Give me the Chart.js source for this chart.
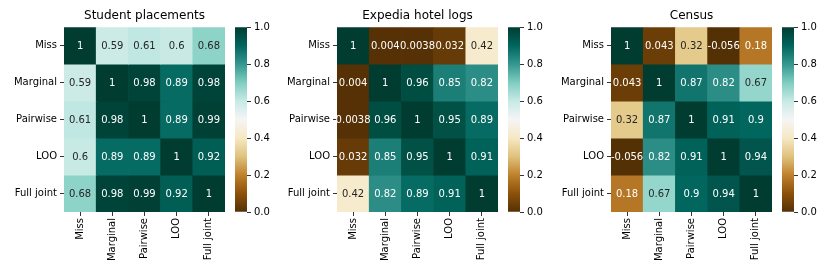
<!DOCTYPE html>
<html>
<head>
<meta charset="utf-8">
<script src="https://cdn.jsdelivr.net/npm/chart.js@4/dist/chart.umd.min.js"></script>
<style>
  html, body { margin: 0; padding: 0; background: #fff; }
  #wrap { position: relative; width: 830px; height: 277px; overflow: hidden; }
  #wrap canvas { position: absolute; top: 0; }
</style>
</head>
<body>
<div id="wrap"></div>
<script>
'use strict';

/* ── Data ─────────────────────────────────────────────────── */

const METHODS = ['Miss', 'Marginal', 'Pairwise', 'LOO', 'Full joint'];

const TITLES = ['Student placements', 'Expedia hotel logs', 'Census'];

const studentCorr = [
  [1, 0.59, 0.61, 0.6, 0.68],
  [0.59, 1, 0.98, 0.89, 0.98],
  [0.61, 0.98, 1, 0.89, 0.99],
  [0.6, 0.89, 0.89, 1, 0.92],
  [0.68, 0.98, 0.99, 0.92, 1],
];

const expediaCorr = [
  [1, 0.004, 0.0038, 0.032, 0.42],
  [0.004, 1, 0.96, 0.85, 0.82],
  [0.0038, 0.96, 1, 0.95, 0.89],
  [0.032, 0.85, 0.95, 1, 0.91],
  [0.42, 0.82, 0.89, 0.91, 1],
];

const censusCorr = [
  [1, 0.043, 0.32, -0.056, 0.18],
  [0.043, 1, 0.87, 0.82, 0.67],
  [0.32, 0.87, 1, 0.91, 0.9],
  [-0.056, 0.82, 0.91, 1, 0.94],
  [0.18, 0.67, 0.9, 0.94, 1],
];

const COLORBAR_TICKS = [0, 0.2, 0.4, 0.6, 0.8, 1.0];

/* ── Style ────────────────────────────────────────────────── */

const FONT = 'DejaVu Sans, Verdana, sans-serif';

// matplotlib BrBG stops at 0, 0.1, ... 1
const BRBG = [
  [84, 48, 5], [140, 81, 10], [191, 129, 45], [223, 194, 125], [246, 232, 195],
  [245, 245, 245], [199, 234, 229], [128, 205, 193], [53, 151, 143], [1, 102, 94],
  [0, 60, 48],
];

const PANELS = [
  { title: TITLES[0], data: studentCorr, left: 64.3 },
  { title: TITLES[1], data: expediaCorr, left: 337.3 },
  { title: TITLES[2], data: censusCorr, left: 610.7 },
];

const AXIS_W = 64;     // room for row labels
const MAP_W = 161;
const TOP = 27.3;
const X_AXIS_H = 65;
const CB_GAP = 10;
const CB_W = 11.5;
const CB_AXIS_W = 34;
const H = 277;

function brbg(v) {
  const t = Math.min(1, Math.max(0, v)) * 10;
  const i = Math.min(9, Math.floor(t));
  const f = t - i;
  const a = BRBG[i], b = BRBG[i + 1];
  return [0, 1, 2].map(k => a[k] + (b[k] - a[k]) * f);
}

function rgb(c) {
  return `rgb(${c.map(Math.round).join(',')})`;
}

// seaborn picks dark or white annotation text by luminance
function textColor(c) {
  const lin = c.map(x => {
    x /= 255;
    return x <= 0.03928 ? x / 12.92 : Math.pow((x + 0.055) / 1.055, 2.4);
  });
  const lum = 0.2126 * lin[0] + 0.7152 * lin[1] + 0.0722 * lin[2];
  return lum > 0.408 ? '#262626' : '#ffffff';
}

const fmt2g = v => String(Number(v.toPrecision(2)));

function makeCanvas(left, width) {
  const c = document.createElement('canvas');
  c.width = Math.ceil(width);
  c.height = H;
  c.style.left = left + 'px';
  c.style.width = Math.ceil(width) + 'px';
  c.style.height = H + 'px';
  document.getElementById('wrap').appendChild(c);
  return c;
}

/* ── Cell annotations ─────────────────────────────────────── */

const annotPlugin = {
  id: 'annot',
  afterDatasetsDraw(chart) {
    const ctx = chart.ctx;
    ctx.save();
    ctx.font = `10px ${FONT}`;
    ctx.textAlign = 'center';
    ctx.textBaseline = 'middle';
    chart.data.datasets.forEach((ds, di) => {
      chart.getDatasetMeta(di).data.forEach((bar, ci) => {
        const v = ds.values[ci];
        ctx.fillStyle = textColor(brbg(v));
        ctx.fillText(fmt2g(v), bar.x, (bar.y + bar.base) / 2 + 0.5);
      });
    });
    ctx.restore();
  },
};

/* ── Heatmap ──────────────────────────────────────────────── */

function createHeatmap(panel) {
  const canvasLeft = panel.left - AXIS_W;
  const width = AXIS_W + MAP_W + 4;
  const canvas = makeCanvas(canvasLeft, width);

  const datasets = panel.data.map((row, r) => ({
    data: row.map(() => [r, r + 1]),
    values: row,
    backgroundColor: row.map(v => rgb(brbg(v))),
    borderWidth: 0,
    barPercentage: 1,
    categoryPercentage: 1,
    grouped: false,
  }));

  return new Chart(canvas, {
    type: 'bar',
    data: { labels: METHODS, datasets },
    plugins: [annotPlugin],
    options: {
      responsive: false,
      animation: false,
      layout: { padding: { top: 0, right: width - AXIS_W - MAP_W, bottom: 0, left: 0 } },
      plugins: {
        legend: { display: false },
        tooltip: { enabled: false },
        title: {
          display: true,
          text: panel.title,
          fullSize: false,
          color: '#000',
          font: { family: FONT, size: 12, weight: 'normal', lineHeight: 1.2 },
          padding: { top: TOP - 14.4 - 4.6, bottom: 4.6 },
        },
      },
      scales: {
        x: {
          type: 'category',
          offset: true,
          afterFit(scale) { scale.height = X_AXIS_H; },
          border: { display: false },
          grid: {
            offset: false,
            drawOnChartArea: false,
            drawTicks: true,
            tickLength: 4,
            tickWidth: 0.8,
            tickColor: '#000',
          },
          ticks: {
            color: '#000',
            font: { family: FONT, size: 10 },
            minRotation: 90,
            maxRotation: 90,
            padding: 2,
            autoSkip: false,
          },
        },
        y: {
          type: 'linear',
          min: 0,
          max: METHODS.length,
          reverse: true,
          afterFit(scale) { scale.width = AXIS_W; },
          afterBuildTicks(scale) {
            scale.ticks = METHODS.map((_, i) => ({ value: i + 0.5 }));
          },
          border: { display: false },
          grid: {
            drawOnChartArea: false,
            drawTicks: true,
            tickLength: 4,
            tickWidth: 0.8,
            tickColor: '#000',
          },
          ticks: {
            color: '#000',
            font: { family: FONT, size: 10 },
            padding: 3,
            autoSkip: false,
            callback: (v, i) => METHODS[i],
          },
        },
      },
    },
  });
}

/* ── Colorbar ─────────────────────────────────────────────── */

function createColorbar(panel) {
  const left = panel.left + MAP_W + CB_GAP;
  const width = CB_W + CB_AXIS_W;
  const canvas = makeCanvas(left, width);

  return new Chart(canvas, {
    type: 'bar',
    data: {
      labels: [''],
      datasets: [{
        data: [[0, 1]],
        borderWidth: 0,
        barPercentage: 1,
        categoryPercentage: 1,
        backgroundColor(ctx) {
          const area = ctx.chart.chartArea;
          if (!area) return null;
          const g = ctx.chart.ctx.createLinearGradient(0, area.bottom, 0, area.top);
          BRBG.forEach((c, i) => g.addColorStop(i / 10, rgb(c)));
          return g;
        },
      }],
    },
    options: {
      responsive: false,
      animation: false,
      layout: { padding: { top: TOP, right: 0, bottom: X_AXIS_H, left: 0 } },
      plugins: { legend: { display: false }, tooltip: { enabled: false } },
      scales: {
        x: { display: false },
        y: {
          position: 'right',
          min: 0,
          max: 1,
          afterFit(scale) { scale.width = CB_AXIS_W; },
          afterBuildTicks(scale) {
            scale.ticks = COLORBAR_TICKS.map(v => ({ value: v }));
          },
          border: { display: false },
          grid: {
            drawOnChartArea: false,
            drawTicks: true,
            tickLength: 4,
            tickWidth: 0.8,
            tickColor: '#000',
          },
          ticks: {
            color: '#000',
            font: { family: FONT, size: 10 },
            padding: 3,
            callback: v => v.toFixed(1),
          },
        },
      },
    },
  });
}

PANELS.forEach(p => {
  createHeatmap(p);
  createColorbar(p);
});
</script>
</body>
</html>
